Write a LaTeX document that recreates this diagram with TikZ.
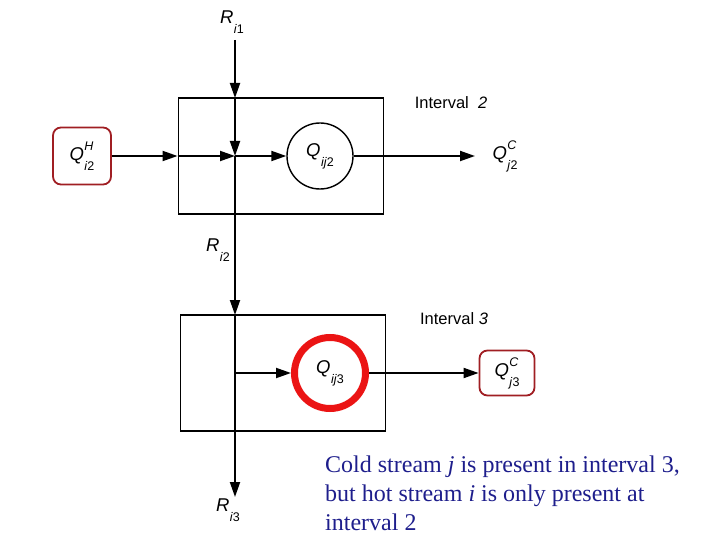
\documentclass[tikz,border=0pt]{standalone}
\usepackage{fontspec}
\setmainfont{Liberation Serif}
\newfontfamily\labelfont{Liberation Sans}
\usetikzlibrary{arrows.meta,positioning}
\definecolor{capblue}{RGB}{30,30,140}
\definecolor{boxred}{RGB}{160,30,35}
\definecolor{ringred}{RGB}{235,20,20}
% symbol with stacked super- and subscript
\newcommand{\flowsym}[3]{\textit{#1}\kern0.5pt\raisebox{1.05ex}{\rlap{\fontsize{12.5}{12.5}\selectfont\textit{#2}}}\raisebox{-1.0ex}{\fontsize{12.5}{12.5}\selectfont #3}}

\begin{document}
\begin{tikzpicture}[x=1pt, y=-1pt,
    interval/.style={rectangle, draw, line width=1.9pt, minimum width=205pt, minimum height=116pt},
    unit/.style={circle, draw, line width=1.4pt, minimum size=66pt, font=\labelfont\fontsize{18.5}{18.5}\selectfont},
    stream/.style={rectangle, draw=boxred, line width=1.8pt, rounded corners=8pt, font=\labelfont\fontsize{18.5}{18.5}\selectfont},
    lab/.style={font=\labelfont\fontsize{18.5}{18.5}\selectfont},
    flow/.style={line width=1.9pt, -{Triangle[length=15pt,width=10pt]}}]
    \useasboundingbox (0,0) rectangle (720,540);

    % Intervals
    \node[interval] (int2) at (281,156) {};
    \node[interval] (int3) at (283,373) {};
    \node[lab, font=\labelfont\fontsize{16.5}{16.5}\selectfont] (lint2) at (451,103) {Interval~~\textit{2}};
    \node[lab, font=\labelfont\fontsize{16.5}{16.5}\selectfont] (lint3) at (454,319) {Interval \textit{3}};

    % Heat exchange units
    \node[unit] (q2) at (320,156) {\flowsym{Q}{}{\textit{ij}2}};
    \node[unit, draw=ringred, line width=7pt, minimum size=71pt] (q3) at (330,373) {\flowsym{Q}{}{\textit{ij}3}};

    % Hot and cold streams
    \node[stream, minimum width=58pt, minimum height=57pt] (qh2) at (82,156) {\flowsym{Q}{H}{\textit{i}2}};
    \node[lab] (qc2) at (505,156) {\flowsym{Q}{C}{\textit{j}2}};
    \node[stream, minimum width=55pt, minimum height=45pt] (qc3) at (507,373) {\flowsym{Q}{C}{\textit{j}3}};

    % Residual heat labels
    \node[lab] (ri1) at (232,22) {\flowsym{R}{}{\textit{i}1}};
    \node[lab] (ri2) at (218,250) {\flowsym{R}{}{\textit{i}2}};
    \node[lab] (ri3) at (228,510) {\flowsym{R}{}{\textit{i}3}};

    % Junctions on the cascade
    \coordinate (src) at (235,40);
    \coordinate (in2) at (235,98);
    \coordinate (mix) at (235,156);
    \coordinate (in3) at (235,315);
    \coordinate (split3) at (235,373);
    \coordinate (out) at (235,497);

    % Heat cascade
    \draw[flow] (src) -- (in2);
    \draw[flow] (in2) -- (mix);
    \draw[flow] (mix) -- (in3);
    \draw[flow] (in3) -- (out);

    % Interval 2 flows
    \draw[flow] (qh2.east) -- (int2.west);
    \draw[flow] (int2.west) -- (mix);
    \draw[flow] (mix) -- (q2);
    \draw[flow, shorten >=14pt] (q2) -- (qc2);

    % Interval 3 flows
    \draw[flow] (split3) -- (q3);
    \draw[flow] (q3) -- (qc3);

    % Remark
    \node[anchor=north west, inner sep=0pt, align=left, text=capblue,
          font=\fontsize{24}{29}\selectfont] (remark) at (325,456)
        {Cold stream \textit{j} is present in interval 3,\\
         but hot stream \textit{i} is only present at\\
         interval 2};
\end{tikzpicture}
\end{document}
